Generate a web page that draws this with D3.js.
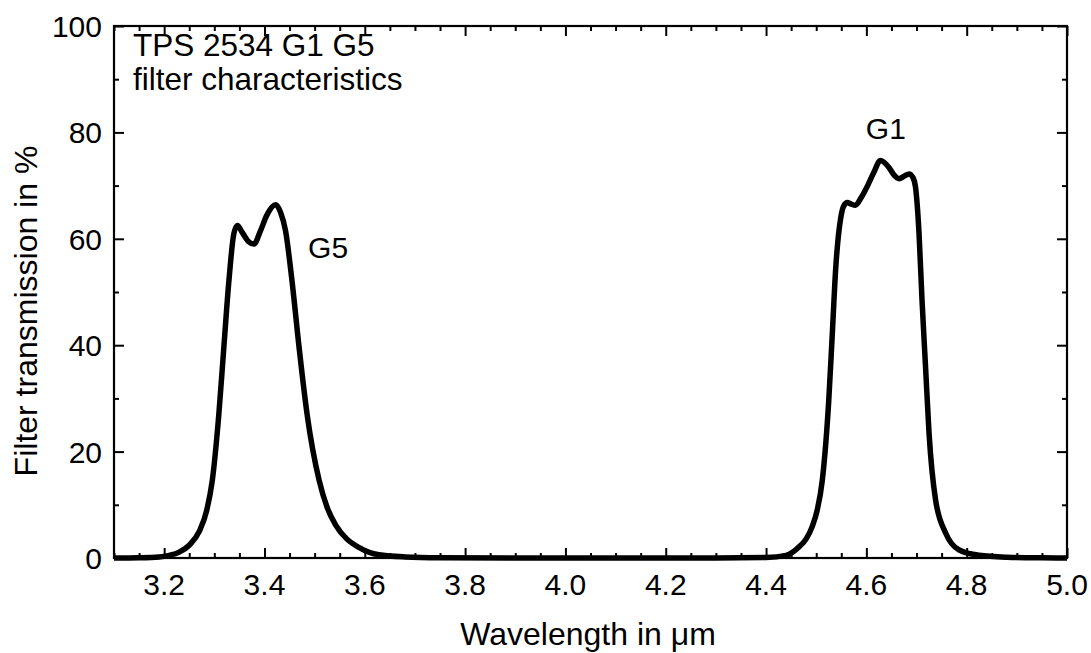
<!DOCTYPE html>
<html><head><meta charset="utf-8">
<script src="https://cdn.jsdelivr.net/npm/d3@7"></script>
<style>body{margin:0;background:#fff}svg{display:block}text{font-family:"Liberation Sans",Arial,sans-serif;fill:#000}</style>
</head><body><svg id="c" width="1091" height="653"></svg>
<script>
// Data
const wavelength = [3.10,3.15,3.19,3.21,3.23,3.25,3.27,3.285,3.296,3.309,3.319,3.329,3.339,3.346,3.355,3.368,3.379,3.392,3.405,3.422,3.432,3.442,3.455,3.469,3.485,3.509,3.525,3.542,3.565,3.588,3.628,3.68,3.75,3.9,4.1,4.3,4.40,4.44,4.466,4.48,4.492,4.502,4.512,4.525,4.532,4.539,4.549,4.555,4.562,4.570,4.578,4.59,4.602,4.615,4.628,4.645,4.655,4.665,4.676,4.685,4.693,4.698,4.705,4.711,4.718,4.725,4.738,4.758,4.785,4.825,4.88,4.95,5.0];
const transmission = [0.0,0.05,0.2,0.5,1.1,2.4,5.0,9.0,14.6,27,39.6,52,61,62.5,61.3,59.5,59.0,61.5,64.5,66.4,65,61.5,52,39.6,27,14.6,9.5,6.2,3.5,2.0,0.6,0.2,0.05,0,0,0,0.1,0.5,2.1,3.6,5.9,9.0,14.5,29.6,42,54.6,64,66.2,66.8,66.5,66.3,67.8,69.9,72.5,74.7,73.4,72.0,71.3,71.8,72.2,71.5,69.7,61,48.4,35.9,23.4,10.9,4.7,1.5,0.5,0.15,0.03,0];
const xTicks = [3.2,3.4,3.6,3.8,4.0,4.2,4.4,4.6,4.8,5.0];
const yTicks = [0,20,40,60,80,100];
const xLabel = "Wavelength in \u03bcm";
const yLabel = "Filter transmission in %";
const titleLines = ["TPS 2534 G1 G5","filter characteristics"];
const peakLabels = [{t:"G5", x:3.487, y:56.3},{t:"G1", x:4.599, y:78.8}];

const svg = d3.select("#c");
const L=114, R=1067, T=26, B=558;
const x = d3.scaleLinear().domain([3.1,5.0]).range([L,R]);
const y = d3.scaleLinear().domain([0,100]).range([B,T]);
const fs = 30, fsAx = 32, fsTitle = 31.5;

const xMinor = d3.range(3.1,5.0001,0.05).map(v=>+v.toFixed(2));
const yMinor = d3.range(0,100.001,10);
const majLen=10, minLen=5;

const gB = svg.append("g").attr("transform",`translate(0,${B})`);
gB.call(d3.axisBottom(x).tickValues(xMinor).tickSize(-minLen).tickFormat(""));
gB.call(g=>g.selectAll(".tick").filter(d=>xTicks.some(t=>Math.abs(t-d)<1e-6)).select("line").attr("y2",-majLen));
const gT = svg.append("g").attr("transform",`translate(0,${T})`);
gT.call(d3.axisTop(x).tickValues(xMinor).tickSize(-minLen).tickFormat(""));
gT.call(g=>g.selectAll(".tick").filter(d=>xTicks.some(t=>Math.abs(t-d)<1e-6)).select("line").attr("y2",majLen));
const gL = svg.append("g").attr("transform",`translate(${L},0)`);
gL.call(d3.axisLeft(y).tickValues(yMinor).tickSize(-minLen).tickFormat(""));
gL.call(g=>g.selectAll(".tick").filter(d=>d%20===0).select("line").attr("x2",majLen));
const gR = svg.append("g").attr("transform",`translate(${R},0)`);
gR.call(d3.axisRight(y).tickValues(yMinor).tickSize(-minLen).tickFormat(""));
gR.call(g=>g.selectAll(".tick").filter(d=>d%20===0).select("line").attr("x2",-majLen));
svg.selectAll(".domain").remove();
svg.selectAll(".tick line").attr("stroke","#000").attr("stroke-width",2);

svg.append("rect").attr("x",L).attr("y",T).attr("width",R-L).attr("height",B-T)
  .attr("fill","none").attr("stroke","#000").attr("stroke-width",2.2);

svg.append("g").selectAll("text").data(xTicks).join("text")
  .attr("x",d=>x(d)).attr("y",B+37).attr("text-anchor","middle").attr("font-size",fs)
  .text(d=>d.toFixed(1));
svg.append("g").selectAll("text").data(yTicks).join("text")
  .attr("x",L-12).attr("y",d=>y(d)+11).attr("text-anchor","end").attr("font-size",fs)
  .text(d=>d);

svg.append("text").attr("x",588).attr("y",645).attr("text-anchor","middle").attr("font-size",fsAx).text(xLabel);
svg.append("text").attr("transform",`translate(37,311) rotate(-90)`).attr("text-anchor","middle").attr("font-size",fsAx).text(yLabel);

svg.append("g").selectAll("text").data(titleLines).join("text")
  .attr("x",133).attr("y",(d,i)=>56+i*34).attr("font-size",fsTitle).text(d=>d);

const data = wavelength.map((w,i)=>[w,transmission[i]]);
svg.append("path").datum(data)
  .attr("fill","none").attr("stroke","#000").attr("stroke-width",5.5).attr("stroke-linejoin","round")
  .attr("d",d3.line().x(d=>x(d[0])).y(d=>y(d[1])).curve(d3.curveMonotoneX));

svg.append("g").selectAll("text").data(peakLabels).join("text")
  .attr("x",d=>x(d.x)).attr("y",d=>y(d.y)).attr("font-size",fs).text(d=>d.t);
</script></body></html>
